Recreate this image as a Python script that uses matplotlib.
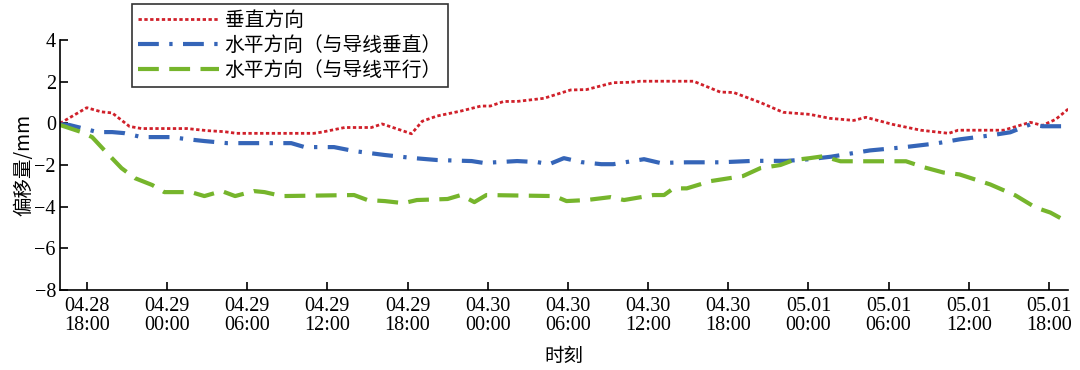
import matplotlib
matplotlib.use("Agg")
import matplotlib.pyplot as plt

# hours counted from 04.28 18:00
red_t = [-2.0, 0.0, 1.1, 1.9, 3.2, 4.1, 7.5, 9.0, 10.3, 11.2, 17.0, 17.6, 19.3, 21.3, 22.1, 23.0,
         24.3, 25.1, 26.2, 28.0, 29.5, 30.2, 31.2, 32.2, 34.2, 35.7, 36.2, 37.4, 39.4, 40.7, 41.4,
         45.4, 47.4, 48.4, 50.4, 52.1, 54.1, 55.6, 57.4, 58.3, 60.3, 62.4, 64.5, 65.2, 68.6, 70.6,
         71.5, 72.5, 73.6]
red_v = [0.0, 0.75, 0.55, 0.5, -0.15, -0.25, -0.25, -0.35, -0.4, -0.48, -0.48, -0.42, -0.2, -0.2,
         -0.03, -0.22, -0.5, 0.1, 0.35, 0.59, 0.83, 0.83, 1.05, 1.05, 1.2, 1.5, 1.6, 1.62, 1.95, 1.97,
         2.02, 2.02, 1.5, 1.48, 1.0, 0.53, 0.43, 0.24, 0.14, 0.29, -0.05, -0.33, -0.48, -0.33, -0.33,
         0.05, -0.1, 0.19, 0.77]

blue_t = [-2.0, -1.3, -0.1, 0.8, 1.9, 2.8, 4.1, 6.3, 7.5, 8.8, 10.5, 15.3, 16.3, 18.5, 20.0, 22.3,
          24.5, 26.2, 28.8, 29.7, 32.2, 33.7, 34.6, 35.7, 37.0, 38.5, 39.4, 41.7, 42.9, 44.9, 47.4,
          49.9, 52.4, 54.1, 55.7, 58.6, 61.1, 63.6, 65.3, 67.6, 69.1, 70.6, 71.5, 73.3]
blue_v = [-0.05, -0.08, -0.27, -0.42, -0.42, -0.47, -0.66, -0.66, -0.76, -0.85, -0.95, -0.95, -1.14,
          -1.14, -1.33, -1.52, -1.67, -1.76, -1.81, -1.9, -1.81, -1.86, -1.96, -1.67, -1.86, -1.96,
          -1.96, -1.72, -1.9, -1.87, -1.87, -1.8, -1.8, -1.72, -1.6, -1.3, -1.15, -0.96, -0.77, -0.58,
          -0.43, -0.05, -0.14, -0.14]

green_t = [-2.0, -0.4, 0.4, 1.3, 2.6, 3.6, 4.9, 5.8, 7.8, 8.8, 10.1, 11.1, 12.5, 13.3, 14.6, 20.0,
           21.0, 22.3, 23.7, 24.7, 27.0, 28.0, 29.0, 29.9, 35.0, 35.9, 37.4, 39.2, 40.2, 42.4, 43.2,
           43.9, 44.9, 46.7, 49.1, 50.4, 51.9, 52.9, 54.1, 55.1, 56.4, 61.3, 62.6, 64.1, 65.3, 67.6,
           69.5, 71.0, 72.1, 73.3]
green_v = [-0.08, -0.42, -0.66, -1.28, -2.15, -2.63, -2.96, -3.3, -3.3, -3.49, -3.25, -3.49, -3.25,
           -3.3, -3.49, -3.44, -3.68, -3.73, -3.83, -3.68, -3.63, -3.44, -3.78, -3.44, -3.49, -3.73,
           -3.68, -3.54, -3.68, -3.44, -3.44, -3.12, -3.12, -2.77, -2.53, -2.15, -2.0, -1.76, -1.67,
           -1.58, -1.82, -1.82, -2.1, -2.36, -2.45, -2.93, -3.46, -4.04, -4.28, -4.7]

tick_hours = [0, 6, 12, 18, 24, 30, 36, 42, 48, 54, 60, 66, 72]
tick_labels = ["04.28\n18:00", "04.29\n00:00", "04.29\n06:00", "04.29\n12:00", "04.29\n18:00",
               "04.30\n00:00", "04.30\n06:00", "04.30\n12:00", "04.30\n18:00", "05.01\n00:00",
               "05.01\n06:00", "05.01\n12:00", "05.01\n18:00"]
names = ["垂直方向", "水平方向（与导线垂直）", "水平方向（与导线平行）"]

cjk = ["Noto Sans CJK SC", "DejaVu Sans"]
serif = ["Liberation Serif", "DejaVu Serif"]

fig = plt.figure(figsize=(10.8, 3.7), dpi=100)
ax = fig.add_axes([0.0556, 0.216, 0.933, 0.676])

ax.plot(red_t, red_v, color="#d0202a", lw=2.0, ls=(0, (1.2, 0.9)), label=names[0])
ax.plot(blue_t, blue_v, color="#3565b8", lw=3.0, ls=(0, (5, 2.5, 0.8, 2.5)), label=names[1])
ax.plot(green_t, green_v, color="#76b52c", lw=3.0, ls=(0, (5, 2.5)), label=names[2])

ax.set_xlim(-2, 73.4)
ax.set_ylim(-8, 4)
ax.set_yticks([-8, -6, -4, -2, 0, 2, 4])
ax.set_xticks(tick_hours)
ax.set_xticklabels(tick_labels, linespacing=1.0)
for lab in ax.get_xticklabels() + ax.get_yticklabels():
    lab.set_family(serif)
    lab.set_fontsize(14.5)
ax.tick_params(direction="in", length=6, width=1.2, pad=5)
ax.tick_params(axis="y", pad=3)

ax.spines["top"].set_visible(False)
ax.spines["right"].set_visible(False)
ax.spines["left"].set_linewidth(1.2)
ax.spines["bottom"].set_linewidth(1.2)

ax.set_xlabel("时刻", family=cjk, fontsize=14, labelpad=8)
ax.set_ylabel("偏移量/mm", family=cjk, fontsize=14, labelpad=0)

leg = ax.legend(loc="upper left", bbox_to_anchor=(0.0714, 1.144), borderaxespad=0,
                frameon=True, fancybox=False, edgecolor="black", handlelength=4.1,
                handletextpad=0.3, borderpad=0.3, labelspacing=0.2,
                prop={"family": cjk, "size": 14.2})
leg.get_frame().set_linewidth(1.2)

fig.savefig("out.png", dpi=100)
